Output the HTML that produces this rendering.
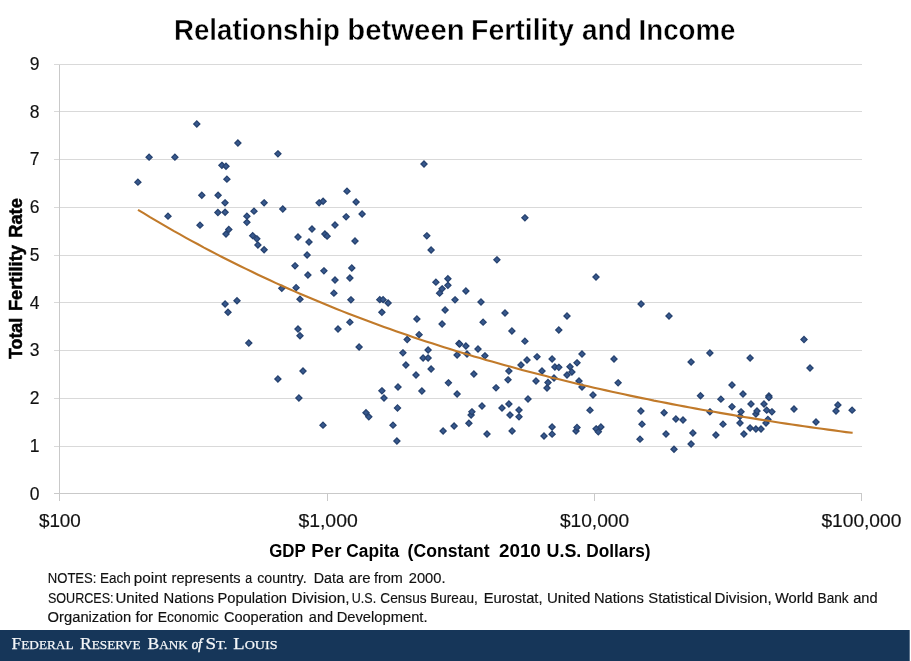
<!DOCTYPE html>
<html lang="en"><head><meta charset="utf-8"><title>Relationship between Fertility and Income</title>
<style>
html,body{margin:0;padding:0;background:#fff;}
body{width:911px;height:661px;overflow:hidden;}
svg{display:block;}
text{font-family:"Liberation Sans",sans-serif;fill:#000;}
.t{font-weight:bold;font-size:29px;stroke:#fff;stroke-width:0.4px;}
.xt{font-weight:bold;font-size:17.6px;}
.yt{font-weight:bold;font-size:18.4px;stroke:#000;stroke-width:0.5px;}
.tick{font-size:17.5px;fill:#111;stroke:#111;stroke-width:0.15px;}
.n{font-size:13.8px;fill:#111;stroke:#111;stroke-width:0.15px;}
.serif{font-family:"Liberation Serif",serif;fill:#f4f6f8;stroke:#f4f6f8;stroke-width:0.25px;}
</style></head><body>
<svg width="911" height="661" viewBox="0 0 911 661">
<rect x="0" y="0" width="911" height="661" fill="#ffffff"/>
<g stroke="#d9d9d9" stroke-width="1" fill="none" shape-rendering="crispEdges">
<line x1="53.5" y1="446.5" x2="861.5" y2="446.5"/>
<line x1="53.5" y1="398.5" x2="861.5" y2="398.5"/>
<line x1="53.5" y1="350.5" x2="861.5" y2="350.5"/>
<line x1="53.5" y1="302.5" x2="861.5" y2="302.5"/>
<line x1="53.5" y1="255.5" x2="861.5" y2="255.5"/>
<line x1="53.5" y1="207.5" x2="861.5" y2="207.5"/>
<line x1="53.5" y1="159.5" x2="861.5" y2="159.5"/>
<line x1="53.5" y1="111.5" x2="861.5" y2="111.5"/>
<line x1="53.5" y1="64.5" x2="861.5" y2="64.5"/>
</g>
<g stroke="#c9c9c9" stroke-width="1" fill="none" shape-rendering="crispEdges">
<line x1="53.5" y1="493.5" x2="861.5" y2="493.5"/>
<line x1="59.5" y1="64.5" x2="59.5" y2="501.0"/>
<line x1="327.5" y1="493.5" x2="327.5" y2="501.0"/>
<line x1="594.5" y1="493.5" x2="594.5" y2="501.0"/>
<line x1="861.5" y1="493.5" x2="861.5" y2="501.0"/>
</g>
<g fill="#38598e" stroke="#26426f" stroke-width="1.3">
<path d="M137.9 179.1l3.05 3.05l-3.05 3.05l-3.05 -3.05z"/>
<path d="M149.1 154.1l3.05 3.05l-3.05 3.05l-3.05 -3.05z"/>
<path d="M168.0 213.1l3.05 3.05l-3.05 3.05l-3.05 -3.05z"/>
<path d="M174.9 154.1l3.05 3.05l-3.05 3.05l-3.05 -3.05z"/>
<path d="M196.8 120.9l3.05 3.05l-3.05 3.05l-3.05 -3.05z"/>
<path d="M200.0 222.1l3.05 3.05l-3.05 3.05l-3.05 -3.05z"/>
<path d="M201.8 192.2l3.05 3.05l-3.05 3.05l-3.05 -3.05z"/>
<path d="M217.9 209.5l3.05 3.05l-3.05 3.05l-3.05 -3.05z"/>
<path d="M218.1 192.2l3.05 3.05l-3.05 3.05l-3.05 -3.05z"/>
<path d="M221.9 162.3l3.05 3.05l-3.05 3.05l-3.05 -3.05z"/>
<path d="M225.0 199.8l3.05 3.05l-3.05 3.05l-3.05 -3.05z"/>
<path d="M225.1 209.2l3.05 3.05l-3.05 3.05l-3.05 -3.05z"/>
<path d="M225.1 300.9l3.05 3.05l-3.05 3.05l-3.05 -3.05z"/>
<path d="M226.0 163.2l3.05 3.05l-3.05 3.05l-3.05 -3.05z"/>
<path d="M226.0 231.0l3.05 3.05l-3.05 3.05l-3.05 -3.05z"/>
<path d="M226.9 176.1l3.05 3.05l-3.05 3.05l-3.05 -3.05z"/>
<path d="M228.0 309.2l3.05 3.05l-3.05 3.05l-3.05 -3.05z"/>
<path d="M228.8 226.4l3.05 3.05l-3.05 3.05l-3.05 -3.05z"/>
<path d="M237.0 297.7l3.05 3.05l-3.05 3.05l-3.05 -3.05z"/>
<path d="M237.9 140.0l3.05 3.05l-3.05 3.05l-3.05 -3.05z"/>
<path d="M246.9 213.1l3.05 3.05l-3.05 3.05l-3.05 -3.05z"/>
<path d="M246.9 219.3l3.05 3.05l-3.05 3.05l-3.05 -3.05z"/>
<path d="M248.8 340.0l3.05 3.05l-3.05 3.05l-3.05 -3.05z"/>
<path d="M252.7 232.6l3.05 3.05l-3.05 3.05l-3.05 -3.05z"/>
<path d="M254.0 208.1l3.05 3.05l-3.05 3.05l-3.05 -3.05z"/>
<path d="M256.8 235.8l3.05 3.05l-3.05 3.05l-3.05 -3.05z"/>
<path d="M257.9 241.9l3.05 3.05l-3.05 3.05l-3.05 -3.05z"/>
<path d="M264.1 199.8l3.05 3.05l-3.05 3.05l-3.05 -3.05z"/>
<path d="M264.1 246.7l3.05 3.05l-3.05 3.05l-3.05 -3.05z"/>
<path d="M277.9 150.8l3.05 3.05l-3.05 3.05l-3.05 -3.05z"/>
<path d="M277.9 375.9l3.05 3.05l-3.05 3.05l-3.05 -3.05z"/>
<path d="M281.8 285.3l3.05 3.05l-3.05 3.05l-3.05 -3.05z"/>
<path d="M282.8 206.0l3.05 3.05l-3.05 3.05l-3.05 -3.05z"/>
<path d="M295.0 262.8l3.05 3.05l-3.05 3.05l-3.05 -3.05z"/>
<path d="M296.1 284.6l3.05 3.05l-3.05 3.05l-3.05 -3.05z"/>
<path d="M298.0 234.0l3.05 3.05l-3.05 3.05l-3.05 -3.05z"/>
<path d="M298.0 326.0l3.05 3.05l-3.05 3.05l-3.05 -3.05z"/>
<path d="M298.9 394.9l3.05 3.05l-3.05 3.05l-3.05 -3.05z"/>
<path d="M300.0 296.1l3.05 3.05l-3.05 3.05l-3.05 -3.05z"/>
<path d="M300.0 332.7l3.05 3.05l-3.05 3.05l-3.05 -3.05z"/>
<path d="M303.0 368.0l3.05 3.05l-3.05 3.05l-3.05 -3.05z"/>
<path d="M307.1 251.9l3.05 3.05l-3.05 3.05l-3.05 -3.05z"/>
<path d="M307.9 272.0l3.05 3.05l-3.05 3.05l-3.05 -3.05z"/>
<path d="M309.0 238.9l3.05 3.05l-3.05 3.05l-3.05 -3.05z"/>
<path d="M312.0 226.0l3.05 3.05l-3.05 3.05l-3.05 -3.05z"/>
<path d="M319.1 199.8l3.05 3.05l-3.05 3.05l-3.05 -3.05z"/>
<path d="M323.0 422.1l3.05 3.05l-3.05 3.05l-3.05 -3.05z"/>
<path d="M323.1 198.2l3.05 3.05l-3.05 3.05l-3.05 -3.05z"/>
<path d="M323.9 267.8l3.05 3.05l-3.05 3.05l-3.05 -3.05z"/>
<path d="M324.9 231.0l3.05 3.05l-3.05 3.05l-3.05 -3.05z"/>
<path d="M327.1 233.1l3.05 3.05l-3.05 3.05l-3.05 -3.05z"/>
<path d="M333.9 290.1l3.05 3.05l-3.05 3.05l-3.05 -3.05z"/>
<path d="M335.0 222.0l3.05 3.05l-3.05 3.05l-3.05 -3.05z"/>
<path d="M335.0 277.0l3.05 3.05l-3.05 3.05l-3.05 -3.05z"/>
<path d="M338.0 326.0l3.05 3.05l-3.05 3.05l-3.05 -3.05z"/>
<path d="M346.1 213.8l3.05 3.05l-3.05 3.05l-3.05 -3.05z"/>
<path d="M347.0 188.1l3.05 3.05l-3.05 3.05l-3.05 -3.05z"/>
<path d="M349.9 275.0l3.05 3.05l-3.05 3.05l-3.05 -3.05z"/>
<path d="M349.9 319.1l3.05 3.05l-3.05 3.05l-3.05 -3.05z"/>
<path d="M350.9 296.8l3.05 3.05l-3.05 3.05l-3.05 -3.05z"/>
<path d="M351.8 264.9l3.05 3.05l-3.05 3.05l-3.05 -3.05z"/>
<path d="M355.0 237.9l3.05 3.05l-3.05 3.05l-3.05 -3.05z"/>
<path d="M356.1 198.9l3.05 3.05l-3.05 3.05l-3.05 -3.05z"/>
<path d="M359.1 343.9l3.05 3.05l-3.05 3.05l-3.05 -3.05z"/>
<path d="M362.1 210.9l3.05 3.05l-3.05 3.05l-3.05 -3.05z"/>
<path d="M366.0 409.7l3.05 3.05l-3.05 3.05l-3.05 -3.05z"/>
<path d="M368.8 413.8l3.05 3.05l-3.05 3.05l-3.05 -3.05z"/>
<path d="M379.8 296.6l3.05 3.05l-3.05 3.05l-3.05 -3.05z"/>
<path d="M381.9 309.2l3.05 3.05l-3.05 3.05l-3.05 -3.05z"/>
<path d="M381.9 387.8l3.05 3.05l-3.05 3.05l-3.05 -3.05z"/>
<path d="M383.1 296.6l3.05 3.05l-3.05 3.05l-3.05 -3.05z"/>
<path d="M384.0 395.0l3.05 3.05l-3.05 3.05l-3.05 -3.05z"/>
<path d="M388.1 300.0l3.05 3.05l-3.05 3.05l-3.05 -3.05z"/>
<path d="M393.0 422.1l3.05 3.05l-3.05 3.05l-3.05 -3.05z"/>
<path d="M396.9 438.0l3.05 3.05l-3.05 3.05l-3.05 -3.05z"/>
<path d="M397.5 404.9l3.05 3.05l-3.05 3.05l-3.05 -3.05z"/>
<path d="M398.0 383.9l3.05 3.05l-3.05 3.05l-3.05 -3.05z"/>
<path d="M402.9 349.8l3.05 3.05l-3.05 3.05l-3.05 -3.05z"/>
<path d="M405.9 362.0l3.05 3.05l-3.05 3.05l-3.05 -3.05z"/>
<path d="M407.2 336.5l3.05 3.05l-3.05 3.05l-3.05 -3.05z"/>
<path d="M416.0 372.0l3.05 3.05l-3.05 3.05l-3.05 -3.05z"/>
<path d="M416.9 315.9l3.05 3.05l-3.05 3.05l-3.05 -3.05z"/>
<path d="M419.1 331.6l3.05 3.05l-3.05 3.05l-3.05 -3.05z"/>
<path d="M421.9 388.0l3.05 3.05l-3.05 3.05l-3.05 -3.05z"/>
<path d="M423.1 354.9l3.05 3.05l-3.05 3.05l-3.05 -3.05z"/>
<path d="M424.0 161.0l3.05 3.05l-3.05 3.05l-3.05 -3.05z"/>
<path d="M426.8 232.8l3.05 3.05l-3.05 3.05l-3.05 -3.05z"/>
<path d="M428.1 346.9l3.05 3.05l-3.05 3.05l-3.05 -3.05z"/>
<path d="M428.1 354.9l3.05 3.05l-3.05 3.05l-3.05 -3.05z"/>
<path d="M431.1 246.9l3.05 3.05l-3.05 3.05l-3.05 -3.05z"/>
<path d="M431.1 366.0l3.05 3.05l-3.05 3.05l-3.05 -3.05z"/>
<path d="M435.9 279.1l3.05 3.05l-3.05 3.05l-3.05 -3.05z"/>
<path d="M439.6 290.1l3.05 3.05l-3.05 3.05l-3.05 -3.05z"/>
<path d="M442.1 285.8l3.05 3.05l-3.05 3.05l-3.05 -3.05z"/>
<path d="M442.1 321.0l3.05 3.05l-3.05 3.05l-3.05 -3.05z"/>
<path d="M443.1 427.9l3.05 3.05l-3.05 3.05l-3.05 -3.05z"/>
<path d="M445.1 306.9l3.05 3.05l-3.05 3.05l-3.05 -3.05z"/>
<path d="M447.9 275.7l3.05 3.05l-3.05 3.05l-3.05 -3.05z"/>
<path d="M447.9 282.3l3.05 3.05l-3.05 3.05l-3.05 -3.05z"/>
<path d="M448.4 379.8l3.05 3.05l-3.05 3.05l-3.05 -3.05z"/>
<path d="M454.1 423.0l3.05 3.05l-3.05 3.05l-3.05 -3.05z"/>
<path d="M455.0 296.8l3.05 3.05l-3.05 3.05l-3.05 -3.05z"/>
<path d="M457.1 351.9l3.05 3.05l-3.05 3.05l-3.05 -3.05z"/>
<path d="M457.1 391.0l3.05 3.05l-3.05 3.05l-3.05 -3.05z"/>
<path d="M459.0 340.4l3.05 3.05l-3.05 3.05l-3.05 -3.05z"/>
<path d="M459.6 340.9l3.05 3.05l-3.05 3.05l-3.05 -3.05z"/>
<path d="M465.9 287.9l3.05 3.05l-3.05 3.05l-3.05 -3.05z"/>
<path d="M465.9 343.0l3.05 3.05l-3.05 3.05l-3.05 -3.05z"/>
<path d="M467.0 351.0l3.05 3.05l-3.05 3.05l-3.05 -3.05z"/>
<path d="M468.9 420.2l3.05 3.05l-3.05 3.05l-3.05 -3.05z"/>
<path d="M471.1 412.0l3.05 3.05l-3.05 3.05l-3.05 -3.05z"/>
<path d="M471.9 408.8l3.05 3.05l-3.05 3.05l-3.05 -3.05z"/>
<path d="M473.9 371.0l3.05 3.05l-3.05 3.05l-3.05 -3.05z"/>
<path d="M478.0 345.9l3.05 3.05l-3.05 3.05l-3.05 -3.05z"/>
<path d="M481.0 298.9l3.05 3.05l-3.05 3.05l-3.05 -3.05z"/>
<path d="M482.0 403.0l3.05 3.05l-3.05 3.05l-3.05 -3.05z"/>
<path d="M483.1 319.1l3.05 3.05l-3.05 3.05l-3.05 -3.05z"/>
<path d="M484.9 352.8l3.05 3.05l-3.05 3.05l-3.05 -3.05z"/>
<path d="M487.0 431.0l3.05 3.05l-3.05 3.05l-3.05 -3.05z"/>
<path d="M496.0 384.8l3.05 3.05l-3.05 3.05l-3.05 -3.05z"/>
<path d="M496.9 256.8l3.05 3.05l-3.05 3.05l-3.05 -3.05z"/>
<path d="M502.0 404.9l3.05 3.05l-3.05 3.05l-3.05 -3.05z"/>
<path d="M505.0 309.9l3.05 3.05l-3.05 3.05l-3.05 -3.05z"/>
<path d="M508.0 376.8l3.05 3.05l-3.05 3.05l-3.05 -3.05z"/>
<path d="M508.9 368.0l3.05 3.05l-3.05 3.05l-3.05 -3.05z"/>
<path d="M508.9 400.9l3.05 3.05l-3.05 3.05l-3.05 -3.05z"/>
<path d="M510.0 412.0l3.05 3.05l-3.05 3.05l-3.05 -3.05z"/>
<path d="M511.9 327.9l3.05 3.05l-3.05 3.05l-3.05 -3.05z"/>
<path d="M512.1 427.9l3.05 3.05l-3.05 3.05l-3.05 -3.05z"/>
<path d="M519.0 406.9l3.05 3.05l-3.05 3.05l-3.05 -3.05z"/>
<path d="M519.0 413.8l3.05 3.05l-3.05 3.05l-3.05 -3.05z"/>
<path d="M521.0 362.0l3.05 3.05l-3.05 3.05l-3.05 -3.05z"/>
<path d="M524.9 214.8l3.05 3.05l-3.05 3.05l-3.05 -3.05z"/>
<path d="M524.9 338.1l3.05 3.05l-3.05 3.05l-3.05 -3.05z"/>
<path d="M527.0 357.0l3.05 3.05l-3.05 3.05l-3.05 -3.05z"/>
<path d="M528.0 395.9l3.05 3.05l-3.05 3.05l-3.05 -3.05z"/>
<path d="M536.0 377.9l3.05 3.05l-3.05 3.05l-3.05 -3.05z"/>
<path d="M537.0 353.8l3.05 3.05l-3.05 3.05l-3.05 -3.05z"/>
<path d="M542.0 368.0l3.05 3.05l-3.05 3.05l-3.05 -3.05z"/>
<path d="M544.0 432.9l3.05 3.05l-3.05 3.05l-3.05 -3.05z"/>
<path d="M547.0 385.0l3.05 3.05l-3.05 3.05l-3.05 -3.05z"/>
<path d="M548.0 379.5l3.05 3.05l-3.05 3.05l-3.05 -3.05z"/>
<path d="M552.1 355.9l3.05 3.05l-3.05 3.05l-3.05 -3.05z"/>
<path d="M552.1 423.9l3.05 3.05l-3.05 3.05l-3.05 -3.05z"/>
<path d="M552.1 431.1l3.05 3.05l-3.05 3.05l-3.05 -3.05z"/>
<path d="M554.0 374.9l3.05 3.05l-3.05 3.05l-3.05 -3.05z"/>
<path d="M554.9 363.9l3.05 3.05l-3.05 3.05l-3.05 -3.05z"/>
<path d="M558.8 326.9l3.05 3.05l-3.05 3.05l-3.05 -3.05z"/>
<path d="M558.8 364.3l3.05 3.05l-3.05 3.05l-3.05 -3.05z"/>
<path d="M567.0 312.9l3.05 3.05l-3.05 3.05l-3.05 -3.05z"/>
<path d="M567.0 372.0l3.05 3.05l-3.05 3.05l-3.05 -3.05z"/>
<path d="M570.0 363.7l3.05 3.05l-3.05 3.05l-3.05 -3.05z"/>
<path d="M571.9 368.9l3.05 3.05l-3.05 3.05l-3.05 -3.05z"/>
<path d="M576.0 427.9l3.05 3.05l-3.05 3.05l-3.05 -3.05z"/>
<path d="M577.0 359.8l3.05 3.05l-3.05 3.05l-3.05 -3.05z"/>
<path d="M577.0 424.4l3.05 3.05l-3.05 3.05l-3.05 -3.05z"/>
<path d="M579.0 377.9l3.05 3.05l-3.05 3.05l-3.05 -3.05z"/>
<path d="M582.0 351.0l3.05 3.05l-3.05 3.05l-3.05 -3.05z"/>
<path d="M582.0 383.9l3.05 3.05l-3.05 3.05l-3.05 -3.05z"/>
<path d="M590.0 407.1l3.05 3.05l-3.05 3.05l-3.05 -3.05z"/>
<path d="M593.0 391.9l3.05 3.05l-3.05 3.05l-3.05 -3.05z"/>
<path d="M596.0 274.0l3.05 3.05l-3.05 3.05l-3.05 -3.05z"/>
<path d="M596.1 425.8l3.05 3.05l-3.05 3.05l-3.05 -3.05z"/>
<path d="M598.3 428.8l3.05 3.05l-3.05 3.05l-3.05 -3.05z"/>
<path d="M600.9 423.9l3.05 3.05l-3.05 3.05l-3.05 -3.05z"/>
<path d="M614.0 355.9l3.05 3.05l-3.05 3.05l-3.05 -3.05z"/>
<path d="M618.1 379.8l3.05 3.05l-3.05 3.05l-3.05 -3.05z"/>
<path d="M640.0 436.1l3.05 3.05l-3.05 3.05l-3.05 -3.05z"/>
<path d="M640.9 408.0l3.05 3.05l-3.05 3.05l-3.05 -3.05z"/>
<path d="M641.1 300.9l3.05 3.05l-3.05 3.05l-3.05 -3.05z"/>
<path d="M642.0 421.1l3.05 3.05l-3.05 3.05l-3.05 -3.05z"/>
<path d="M664.1 409.7l3.05 3.05l-3.05 3.05l-3.05 -3.05z"/>
<path d="M666.0 431.0l3.05 3.05l-3.05 3.05l-3.05 -3.05z"/>
<path d="M669.0 312.9l3.05 3.05l-3.05 3.05l-3.05 -3.05z"/>
<path d="M674.0 446.2l3.05 3.05l-3.05 3.05l-3.05 -3.05z"/>
<path d="M675.9 415.9l3.05 3.05l-3.05 3.05l-3.05 -3.05z"/>
<path d="M683.0 417.0l3.05 3.05l-3.05 3.05l-3.05 -3.05z"/>
<path d="M691.1 358.9l3.05 3.05l-3.05 3.05l-3.05 -3.05z"/>
<path d="M691.1 441.0l3.05 3.05l-3.05 3.05l-3.05 -3.05z"/>
<path d="M692.9 429.9l3.05 3.05l-3.05 3.05l-3.05 -3.05z"/>
<path d="M700.5 392.7l3.05 3.05l-3.05 3.05l-3.05 -3.05z"/>
<path d="M709.9 349.9l3.05 3.05l-3.05 3.05l-3.05 -3.05z"/>
<path d="M709.9 408.8l3.05 3.05l-3.05 3.05l-3.05 -3.05z"/>
<path d="M715.9 432.0l3.05 3.05l-3.05 3.05l-3.05 -3.05z"/>
<path d="M720.9 396.1l3.05 3.05l-3.05 3.05l-3.05 -3.05z"/>
<path d="M723.0 421.1l3.05 3.05l-3.05 3.05l-3.05 -3.05z"/>
<path d="M732.0 381.9l3.05 3.05l-3.05 3.05l-3.05 -3.05z"/>
<path d="M732.0 403.7l3.05 3.05l-3.05 3.05l-3.05 -3.05z"/>
<path d="M740.0 413.3l3.05 3.05l-3.05 3.05l-3.05 -3.05z"/>
<path d="M740.0 420.0l3.05 3.05l-3.05 3.05l-3.05 -3.05z"/>
<path d="M741.0 408.8l3.05 3.05l-3.05 3.05l-3.05 -3.05z"/>
<path d="M743.0 391.0l3.05 3.05l-3.05 3.05l-3.05 -3.05z"/>
<path d="M743.9 431.0l3.05 3.05l-3.05 3.05l-3.05 -3.05z"/>
<path d="M750.1 354.9l3.05 3.05l-3.05 3.05l-3.05 -3.05z"/>
<path d="M750.1 424.9l3.05 3.05l-3.05 3.05l-3.05 -3.05z"/>
<path d="M751.0 400.9l3.05 3.05l-3.05 3.05l-3.05 -3.05z"/>
<path d="M755.9 411.0l3.05 3.05l-3.05 3.05l-3.05 -3.05z"/>
<path d="M755.9 426.0l3.05 3.05l-3.05 3.05l-3.05 -3.05z"/>
<path d="M757.0 408.0l3.05 3.05l-3.05 3.05l-3.05 -3.05z"/>
<path d="M761.0 426.0l3.05 3.05l-3.05 3.05l-3.05 -3.05z"/>
<path d="M764.0 400.9l3.05 3.05l-3.05 3.05l-3.05 -3.05z"/>
<path d="M766.0 420.0l3.05 3.05l-3.05 3.05l-3.05 -3.05z"/>
<path d="M766.7 407.1l3.05 3.05l-3.05 3.05l-3.05 -3.05z"/>
<path d="M767.9 416.4l3.05 3.05l-3.05 3.05l-3.05 -3.05z"/>
<path d="M768.9 392.9l3.05 3.05l-3.05 3.05l-3.05 -3.05z"/>
<path d="M768.9 394.5l3.05 3.05l-3.05 3.05l-3.05 -3.05z"/>
<path d="M771.9 408.8l3.05 3.05l-3.05 3.05l-3.05 -3.05z"/>
<path d="M794.0 406.0l3.05 3.05l-3.05 3.05l-3.05 -3.05z"/>
<path d="M804.0 336.5l3.05 3.05l-3.05 3.05l-3.05 -3.05z"/>
<path d="M810.0 365.0l3.05 3.05l-3.05 3.05l-3.05 -3.05z"/>
<path d="M816.0 418.9l3.05 3.05l-3.05 3.05l-3.05 -3.05z"/>
<path d="M836.0 408.0l3.05 3.05l-3.05 3.05l-3.05 -3.05z"/>
<path d="M837.9 401.9l3.05 3.05l-3.05 3.05l-3.05 -3.05z"/>
<path d="M852.1 407.1l3.05 3.05l-3.05 3.05l-3.05 -3.05z"/>
</g>
<polyline fill="none" stroke="#c17a2a" stroke-width="2.1" stroke-linecap="butt" stroke-linejoin="round" points="138.0,209.8 144.0,213.4 150.0,217.1 156.0,220.6 162.0,224.1 168.0,227.6 174.0,231.1 180.0,234.4 186.0,237.8 192.0,241.1 198.0,244.3 204.0,247.6 210.0,250.7 216.0,253.9 222.0,257.0 228.0,260.0 234.0,263.0 240.0,266.0 246.0,268.9 252.0,271.8 258.0,274.7 264.0,277.5 270.0,280.3 276.0,283.1 282.0,285.8 288.0,288.5 294.0,291.1 300.0,293.7 306.0,296.3 312.0,298.8 318.0,301.3 324.0,303.8 330.0,306.3 336.0,308.7 342.0,311.1 348.0,313.4 354.0,315.7 360.0,318.0 366.0,320.3 372.0,322.5 378.0,324.7 384.0,326.9 390.0,329.1 396.0,331.2 402.0,333.3 408.0,335.3 414.0,337.4 420.0,339.4 426.0,341.4 432.0,343.3 438.0,345.3 444.0,347.2 450.0,349.1 456.0,350.9 462.0,352.8 468.0,354.6 474.0,356.4 480.0,358.1 486.0,359.9 492.0,361.6 498.0,363.3 504.0,365.0 510.0,366.6 516.0,368.3 522.0,369.9 528.0,371.5 534.0,373.1 540.0,374.6 546.0,376.1 552.0,377.7 558.0,379.1 564.0,380.6 570.0,382.1 576.0,383.5 582.0,384.9 588.0,386.3 594.0,387.7 600.0,389.1 606.0,390.4 612.0,391.7 618.0,393.0 624.0,394.3 630.0,395.6 636.0,396.9 642.0,398.1 648.0,399.3 654.0,400.6 660.0,401.7 666.0,402.9 672.0,404.1 678.0,405.2 684.0,406.4 690.0,407.5 696.0,408.6 702.0,409.7 708.0,410.8 714.0,411.8 720.0,412.9 726.0,413.9 732.0,414.9 738.0,416.0 744.0,417.0 750.0,417.9 756.0,418.9 762.0,419.9 768.0,420.8 774.0,421.7 780.0,422.7 786.0,423.6 792.0,424.5 798.0,425.4 804.0,426.2 810.0,427.1 816.0,428.0 822.0,428.8 828.0,429.6 834.0,430.4 840.0,431.3 846.0,432.1 852.0,432.8 852.6,432.9"/>
<text class="tick" x="39.6" y="499.6" text-anchor="end">0</text>
<text class="tick" x="39.6" y="451.9" text-anchor="end">1</text>
<text class="tick" x="39.6" y="404.1" text-anchor="end">2</text>
<text class="tick" x="39.6" y="356.4" text-anchor="end">3</text>
<text class="tick" x="39.6" y="308.6" text-anchor="end">4</text>
<text class="tick" x="39.6" y="260.9" text-anchor="end">5</text>
<text class="tick" x="39.6" y="213.2" text-anchor="end">6</text>
<text class="tick" x="39.6" y="165.4" text-anchor="end">7</text>
<text class="tick" x="39.6" y="117.7" text-anchor="end">8</text>
<text class="tick" x="39.6" y="69.9" text-anchor="end">9</text>
<text class="tick" x="38.90" y="526.9" textLength="41.97" lengthAdjust="spacingAndGlyphs">$100</text>
<text class="tick" x="298.40" y="526.9" textLength="59.38" lengthAdjust="spacingAndGlyphs">$1,000</text>
<text class="tick" x="559.90" y="526.9" textLength="69.18" lengthAdjust="spacingAndGlyphs">$10,000</text>
<text class="tick" x="821.40" y="526.9" textLength="79.98" lengthAdjust="spacingAndGlyphs">$100,000</text>
<text class="t" x="174.07" y="39.9" textLength="165.73" lengthAdjust="spacingAndGlyphs">Relationship</text>
<text class="t" x="347.37" y="39.9" textLength="117.25" lengthAdjust="spacingAndGlyphs">between</text>
<text class="t" x="471.02" y="39.9" textLength="102.80" lengthAdjust="spacingAndGlyphs">Fertility</text>
<text class="t" x="581.96" y="39.9" textLength="49.94" lengthAdjust="spacingAndGlyphs">and</text>
<text class="t" x="638.57" y="39.9" textLength="96.92" lengthAdjust="spacingAndGlyphs">Income</text>
<text class="xt" x="269.27" y="556.5" textLength="36.47" lengthAdjust="spacingAndGlyphs">GDP</text>
<text class="xt" x="311.33" y="556.5" textLength="30.13" lengthAdjust="spacingAndGlyphs">Per</text>
<text class="xt" x="346.26" y="556.5" textLength="52.93" lengthAdjust="spacingAndGlyphs">Capita</text>
<text class="xt" x="407.58" y="556.5" textLength="82.11" lengthAdjust="spacingAndGlyphs">(Constant</text>
<text class="xt" x="498.91" y="556.5" textLength="41.95" lengthAdjust="spacingAndGlyphs">2010</text>
<text class="xt" x="546.56" y="556.5" textLength="34.80" lengthAdjust="spacingAndGlyphs">U.S.</text>
<text class="xt" x="586.22" y="556.5" textLength="64.30" lengthAdjust="spacingAndGlyphs">Dollars)</text>
<g transform="translate(22.1 359.0) rotate(-90)">
<text class="yt" x="0.00" y="0" textLength="41.15" lengthAdjust="spacingAndGlyphs">Total</text>
<text class="yt" x="47.96" y="0" textLength="65.92" lengthAdjust="spacingAndGlyphs">Fertility</text>
<text class="yt" x="121.26" y="0" textLength="39.60" lengthAdjust="spacingAndGlyphs">Rate</text>
</g>
<text class="n" x="47.78" y="583.0" textLength="48.70" lengthAdjust="spacingAndGlyphs">NOTES:</text>
<text class="n" x="99.94" y="583.0" textLength="30.82" lengthAdjust="spacingAndGlyphs">Each</text>
<text class="n" x="133.85" y="583.0" textLength="33.00" lengthAdjust="spacingAndGlyphs">point</text>
<text class="n" x="171.59" y="583.0" textLength="68.97" lengthAdjust="spacingAndGlyphs">represents</text>
<text class="n" x="245.21" y="583.0" textLength="6.91" lengthAdjust="spacingAndGlyphs">a</text>
<text class="n" x="257.26" y="583.0" textLength="49.32" lengthAdjust="spacingAndGlyphs">country.</text>
<text class="n" x="313.68" y="583.0" textLength="30.23" lengthAdjust="spacingAndGlyphs">Data</text>
<text class="n" x="348.83" y="583.0" textLength="21.78" lengthAdjust="spacingAndGlyphs">are</text>
<text class="n" x="373.90" y="583.0" textLength="28.85" lengthAdjust="spacingAndGlyphs">from</text>
<text class="n" x="408.81" y="583.0" textLength="36.71" lengthAdjust="spacingAndGlyphs">2000.</text>
<text class="n" x="47.91" y="602.6" textLength="65.63" lengthAdjust="spacingAndGlyphs">SOURCES:</text>
<text class="n" x="115.46" y="602.6" textLength="43.48" lengthAdjust="spacingAndGlyphs">United</text>
<text class="n" x="163.54" y="602.6" textLength="50.32" lengthAdjust="spacingAndGlyphs">Nations</text>
<text class="n" x="217.45" y="602.6" textLength="69.58" lengthAdjust="spacingAndGlyphs">Population</text>
<text class="n" x="291.60" y="602.6" textLength="57.94" lengthAdjust="spacingAndGlyphs">Division,</text>
<text class="n" x="351.82" y="602.6" textLength="24.31" lengthAdjust="spacingAndGlyphs">U.S.</text>
<text class="n" x="380.26" y="602.6" textLength="46.37" lengthAdjust="spacingAndGlyphs">Census</text>
<text class="n" x="430.34" y="602.6" textLength="47.37" lengthAdjust="spacingAndGlyphs">Bureau,</text>
<text class="n" x="483.75" y="602.6" textLength="58.74" lengthAdjust="spacingAndGlyphs">Eurostat,</text>
<text class="n" x="546.96" y="602.6" textLength="43.48" lengthAdjust="spacingAndGlyphs">United</text>
<text class="n" x="593.95" y="602.6" textLength="49.91" lengthAdjust="spacingAndGlyphs">Nations</text>
<text class="n" x="648.34" y="602.6" textLength="63.44" lengthAdjust="spacingAndGlyphs">Statistical</text>
<text class="n" x="714.52" y="602.6" textLength="57.21" lengthAdjust="spacingAndGlyphs">Division,</text>
<text class="n" x="775.00" y="602.6" textLength="38.13" lengthAdjust="spacingAndGlyphs">World</text>
<text class="n" x="817.53" y="602.6" textLength="31.15" lengthAdjust="spacingAndGlyphs">Bank</text>
<text class="n" x="853.24" y="602.6" textLength="24.38" lengthAdjust="spacingAndGlyphs">and</text>
<text class="n" x="47.61" y="621.5" textLength="83.62" lengthAdjust="spacingAndGlyphs">Organization</text>
<text class="n" x="135.50" y="621.5" textLength="17.67" lengthAdjust="spacingAndGlyphs">for</text>
<text class="n" x="157.71" y="621.5" textLength="61.10" lengthAdjust="spacingAndGlyphs">Economic</text>
<text class="n" x="223.92" y="621.5" textLength="79.20" lengthAdjust="spacingAndGlyphs">Cooperation</text>
<text class="n" x="308.85" y="621.5" textLength="24.27" lengthAdjust="spacingAndGlyphs">and</text>
<text class="n" x="336.65" y="621.5" textLength="90.88" lengthAdjust="spacingAndGlyphs">Development.</text>
<rect x="0" y="630" width="909.7" height="31" fill="#163659"/>
<text class="serif" x="11.53" y="649.4" font-size="16.9" textLength="62.01" lengthAdjust="spacingAndGlyphs">F<tspan font-size="12.8">EDERAL</tspan></text>
<text class="serif" x="80.03" y="649.4" font-size="16.9" textLength="60.61" lengthAdjust="spacingAndGlyphs">R<tspan font-size="12.8">ESERVE</tspan></text>
<text class="serif" x="147.63" y="649.4" font-size="16.9" textLength="40.22" lengthAdjust="spacingAndGlyphs">B<tspan font-size="12.8">ANK</tspan></text>
<text class="serif" x="205.51" y="649.4" font-size="16.9" textLength="21.89" lengthAdjust="spacingAndGlyphs">S<tspan font-size="12.8">T.</tspan></text>
<text class="serif" x="233.31" y="649.4" font-size="16.9" textLength="44.18" lengthAdjust="spacingAndGlyphs">L<tspan font-size="12.8">OUIS</tspan></text>
<text class="serif" x="191.70" y="649.4" font-size="14.3" font-style="italic" style="stroke-width:0.55px" textLength="10.04" lengthAdjust="spacingAndGlyphs">of</text>
</svg>
</body></html>
